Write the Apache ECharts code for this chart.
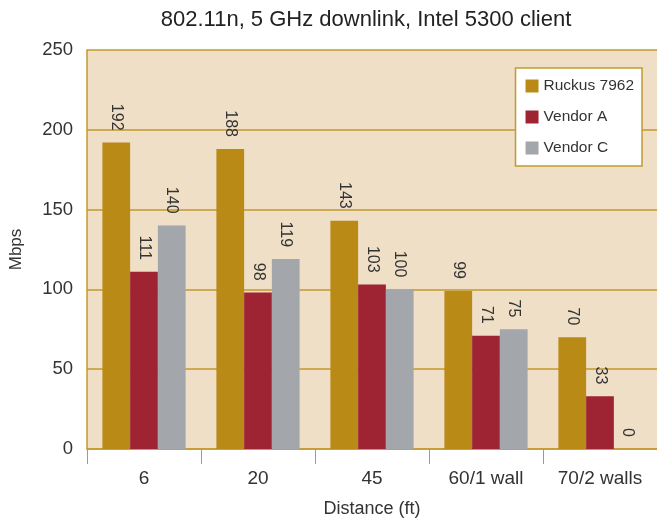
<!DOCTYPE html>
<html>
<head>
<meta charset="utf-8">
<script src="https://cdn.jsdelivr.net/npm/echarts@6/dist/echarts.min.js"></script>
<style>
  html, body { margin: 0; padding: 0; background: #fff; }
  #chart { width: 657px; height: 523px; }
</style>
</head>
<body>
<div id="chart"></div>
<script>
const distances = ["6", "20", "45", "60/1 wall", "70/2 walls"];
const ruckus = [192, 188, 143, 99, 70];
const vendorA = [111, 98, 103, 71, 33];
const vendorC = [140, 119, 100, 75, 0];
const yTicks = [0, 50, 100, 150, 200, 250];

const chart = echarts.init(document.getElementById("chart"));
const gold = "#c39a2c";
const font = "Liberation Sans, Arial, sans-serif";

// rotated value labels above each bar
const barLabel = {
  show: true,
  position: "top",
  rotate: -90,
  align: "right",
  verticalAlign: "middle",
  distance: 12,
  fontSize: 16,
  fontFamily: font,
  color: "#333",
};

function bar(name, data, color) {
  return {
    name: name,
    type: "bar",
    data: data,
    barGap: "0%",
    barCategoryGap: "27%",
    itemStyle: { color: color },
    label: barLabel,
  };
}

chart.setOption({
  animation: false,
  textStyle: { fontFamily: font },
  title: {
    text: "802.11n, 5 GHz downlink, Intel 5300 client",
    left: 361,
    textAlign: "center",
    top: 4,
    textStyle: { fontSize: 22, fontWeight: "normal", color: "#222", fontFamily: font },
  },
  legend: {
    orient: "vertical",
    right: 15,
    top: 68,
    backgroundColor: "#fff",
    borderColor: gold,
    borderWidth: 1.5,
    padding: [10, 8, 10, 10],
    itemWidth: 13,
    itemHeight: 13,
    itemGap: 15,
    icon: "rect",
    textStyle: { fontSize: 15.5, color: "#333", fontFamily: font },
    data: ["Ruckus 7962", "Vendor A", "Vendor C"],
  },
  grid: {
    left: 86,
    right: 0,
    top: 50,
    bottom: 74,
    show: true,
    backgroundColor: "#efdfc6",
    borderWidth: 0,
  },
  xAxis: {
    type: "category",
    data: distances,
    name: "Distance (ft)",
    nameLocation: "middle",
    nameGap: 51,
    nameTextStyle: { fontSize: 18, color: "#333" },
    axisLine: { lineStyle: { color: gold, width: 1.5 } },
    axisTick: { show: true, length: 15, lineStyle: { color: gold } },
    axisLabel: { fontSize: 19, color: "#333", margin: 20 },
  },
  yAxis: {
    type: "value",
    min: yTicks[0],
    max: yTicks[yTicks.length - 1],
    interval: 50,
    name: "Mbps",
    nameLocation: "middle",
    nameGap: 62,
    nameTextStyle: { fontSize: 17, color: "#333" },
    axisLine: { show: true, lineStyle: { color: gold, width: 1.5 } },
    axisTick: { show: false },
    splitLine: { show: true, lineStyle: { color: gold, width: 1.5 } },
    axisLabel: { fontSize: 18.5, color: "#333", margin: 14 },
  },
  series: [
    bar("Ruckus 7962", ruckus, "#ba8a17"),
    bar("Vendor A", vendorA, "#9e2333"),
    bar("Vendor C", vendorC, "#a3a6ab"),
  ],
});
</script>
</body>
</html>
